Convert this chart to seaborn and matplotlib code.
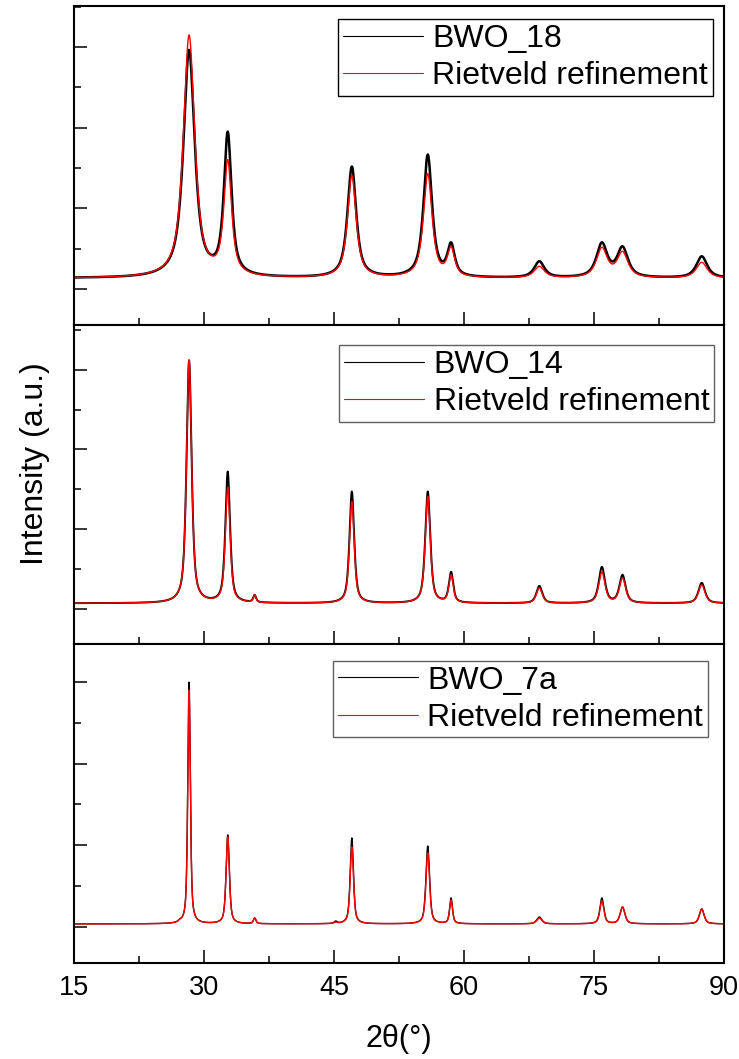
import numpy as np
import pandas as pd
import matplotlib
matplotlib.use('Agg')
import matplotlib.pyplot as plt
from matplotlib.ticker import MultipleLocator, NullFormatter
import seaborn as sns

# peak lists (2theta in degrees, tip heights in a.u.)
samples = ['BWO_18', 'BWO_14', 'BWO_7a']

pos_18 = [28.28, 32.74, 47.06, 55.82, 58.51, 68.69, 75.91, 78.29, 87.43]
obs_18 = [2963, 1951, 1519, 1667, 580, 346, 580, 531, 407]
calc_18 = [3148, 1605, 1407, 1432, 531, 284, 519, 469, 333]
fwhm_18 = [1.55, 1.05, 1.2, 1.2, 1.0, 1.4, 1.5, 1.5, 1.5]
bg_18 = 135

pos_14 = [28.28, 32.74, 35.85, 47.06, 55.82, 58.51, 68.69, 75.91, 78.29, 87.43]
obs_14 = [3119, 1723, 176, 1472, 1472, 465, 289, 528, 428, 327]
calc_14 = [3119, 1522, 176, 1346, 1409, 428, 264, 465, 390, 302]
fwhm_14 = [0.7, 0.65, 0.4, 0.65, 0.7, 0.6, 0.8, 0.85, 0.85, 0.9]
bg_14 = 70

pos_7a = [27.2, 28.28, 32.74, 35.85, 45.2, 47.06, 55.82, 58.51, 68.69, 75.91, 78.29, 87.43]
obs_7a = [98, 2999, 1126, 110, 73, 1089, 991, 355, 122, 355, 245, 220]
calc_7a = [98, 2901, 1102, 110, 60, 979, 906, 330, 110, 318, 245, 220]
fwhm_7a = [0.4, 0.35, 0.45, 0.35, 0.4, 0.45, 0.5, 0.4, 0.7, 0.55, 0.65, 0.65]
bg_7a = 37

ylims = [(-444, 3506), (-440, 3560), (-441, 3464)]
legend_anchor = [(0.983, 0.959), (0.985, 0.937), (0.975, 0.947)]
black_lw = [1.8, 1.4, 1.0]
shape_eta = [0.8, 0.65, 0.6]


def pv(x, c, w, eta=0.5):
    g = np.exp(-4 * np.log(2) * ((x - c) / w) ** 2)
    l = 1 / (1 + 4 * ((x - c) / w) ** 2)
    return eta * l + (1 - eta) * g


def pattern(x, pos, tips, fwhm, bg, eta=0.5):
    # amplitudes so that the summed curve passes through the read tip heights
    M = np.array([[pv(p, c, w, eta) for c, w in zip(pos, fwhm)] for p in pos])
    amps = np.linalg.solve(M, np.array(tips, float) - bg)
    y = np.full_like(x, bg, dtype=float)
    for a, c, w in zip(amps, pos, fwhm):
        y += a * pv(x, c, w, eta)
    return y


sns.set_theme(style='ticks')
plt.rcParams['font.family'] = ['Liberation Sans', 'DejaVu Sans']
plt.rcParams.update({'text.color': 'black', 'axes.labelcolor': 'black',
                     'xtick.color': 'black', 'ytick.color': 'black'})

tt = np.linspace(15, 90, 4001)
panels = [
    (pos_18, obs_18, calc_18, fwhm_18, bg_18),
    (pos_14, obs_14, calc_14, fwhm_14, bg_14),
    (pos_7a, obs_7a, calc_7a, fwhm_7a, bg_7a),
]

fig, axes = plt.subplots(3, 1, figsize=(7.39, 10.59), dpi=100, sharex=True)
fig.subplots_adjust(left=0.1001, right=0.9797, top=0.9943, bottom=0.0907, hspace=0)

for i, ax in enumerate(axes):
    pos, obs, calc, fwhm, bg = panels[i]
    eta = shape_eta[i]
    df = pd.DataFrame({'tt': tt,
                       'obs': pattern(tt, pos, obs, fwhm, bg, eta),
                       'calc': pattern(tt, pos, calc, fwhm, bg, eta)})
    sns.lineplot(data=df, x='tt', y='obs', ax=ax, color='black', lw=black_lw[i],
                 estimator=None, label=samples[i])
    sns.lineplot(data=df, x='tt', y='calc', ax=ax, color='#ff0000', lw=1.0,
                 estimator=None, label='Rietveld refinement')

    ax.set_xlim(15, 90)
    ax.set_ylim(*ylims[i])
    ax.xaxis.set_major_locator(MultipleLocator(15))
    ax.xaxis.set_minor_locator(MultipleLocator(7.5))
    ax.yaxis.set_major_locator(MultipleLocator(1000))
    ax.yaxis.set_minor_locator(MultipleLocator(500))
    ax.yaxis.set_major_formatter(NullFormatter())
    ax.tick_params(which='both', direction='in', top=False, right=False, width=1.1)
    ax.tick_params(which='major', length=9.4)
    ax.tick_params(which='minor', length=5)
    ax.tick_params(axis='x', labelsize=19.5, pad=9)
    for s in ax.spines.values():
        s.set_linewidth(1.5)
        s.set_color('black')
    ax.set_xlabel('')
    ax.set_ylabel('')

    leg = ax.legend(loc='upper right', bbox_to_anchor=legend_anchor[i], borderaxespad=0,
                    fontsize=23, handlelength=2.5, handletextpad=0.3, labelspacing=0.22,
                    borderpad=0.15, fancybox=False, framealpha=1)
    leg.get_frame().set_edgecolor('black' if i == 0 else '#606060')
    leg.get_frame().set_linewidth(1.0)
    for ln in leg.get_lines():
        ln.set_linewidth(0.8)

axes[2].set_xlabel('2θ(°)', fontsize=22, labelpad=16)
fig.text(35 / 739, 1 - 464 / 1059, 'Intensity (a.u.)', rotation=90, fontsize=23,
         ha='center', va='center')

fig.savefig('out.png', dpi=100)
